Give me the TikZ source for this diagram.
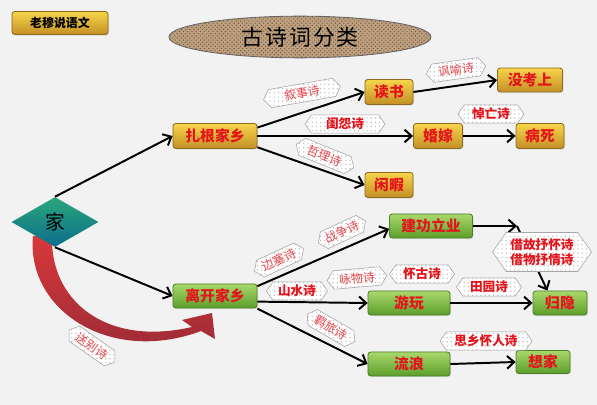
\documentclass[tikz,border=0pt]{standalone}
\usepackage{fontspec}
\setmainfont{Noto Sans CJK SC}
\usetikzlibrary{shapes.geometric,shapes.symbols,arrows.meta,patterns,shadows}

\definecolor{bgc}{HTML}{F2F2F2}
\definecolor{goldtop}{HTML}{F6D54A}
\definecolor{goldbot}{HTML}{C38F26}
\definecolor{goldline}{HTML}{8C6A1E}
\definecolor{greentop}{HTML}{A9D86B}
\definecolor{greenbot}{HTML}{5C9E2B}
\definecolor{greenline}{HTML}{4C7F2A}
\definecolor{txtred}{HTML}{E3141C}
\definecolor{lblred}{HTML}{E4474B}
\definecolor{tealtop}{HTML}{2BA67A}
\definecolor{tealbot}{HTML}{0B6E8C}
\definecolor{sand}{HTML}{BFA07E}
\definecolor{arrtop}{HTML}{D8383A}
\definecolor{arrbot}{HTML}{962A36}

\tikzset{
  goldbox/.style={rectangle, rounded corners=2pt, draw=goldline, line width=0.6pt,
    top color=goldtop, bottom color=goldbot, text=txtred,
    font=\fontsize{10.5}{12}\selectfont\bfseries, minimum height=0.625cm, inner sep=0pt,
    drop shadow={opacity=0.2, shadow xshift=0.8pt, shadow yshift=-0.8pt}},
  greenbox/.style={goldbox, draw=greenline, top color=greentop, bottom color=greenbot},
  tag/.style={signal, signal to=east and west, signal pointer angle=110,
    draw=gray!70, line width=0.4pt, preaction={fill=white}, pattern=dots,
    pattern color=gray!55, text=lblred, font=\fontsize{8.5}{10}\selectfont,
    minimum height=0.46cm, inner sep=1pt},
  boldtag/.style={tag, text=txtred, font=\fontsize{9}{10.5}\selectfont\bfseries},
  link/.style={draw=black, line width=1.4pt, -{Straight Barb[length=5pt,width=9pt]}},
}

\begin{document}
\begin{tikzpicture}[x=0.025cm, y=-0.025cm]
  \fill[bgc] (0,0) rectangle (597,405);
  \useasboundingbox (0,0) rectangle (597,405);

  % header and title
  \node[goldbox, text=black, minimum width=2.4cm, minimum height=0.575cm,
    font=\fontsize{8.5}{10}\selectfont\bfseries] (brand) at (60,23) {老穆说语文};
  \node[ellipse, draw=gray!80!black, line width=0.6pt, fill=sand,
    postaction={pattern=crosshatch dots, pattern color=sand!55!black},
    minimum width=6.55cm, minimum height=0.925cm,
    font=\fontsize{15.5}{15.5}\selectfont] (title) at (300,37)
    {古\hspace{1.5pt}诗\hspace{1.5pt}词\hspace{1.5pt}分\hspace{1.5pt}类};

  % red curved arrow
  \shade[top color=arrtop, bottom color=arrbot] (33,236)
    .. controls (26,310) and (110,365) .. (201,331)
    -- (215,339) -- (212,313) -- (182,320) -- (192,327)
    .. controls (105,347) and (50,300) .. (52,236) -- cycle;

  \node[diamond, aspect=1.74, minimum width=2.175cm, minimum height=1.25cm,
    inner sep=0pt, top color=tealtop, bottom color=tealbot,
    font=\fontsize{14}{14}\selectfont] (jia) at (55,222) {家};

  % boxes
  \node[goldbox, minimum width=2.1cm] (zg) at (215,136) {扎根家乡};
  \node[goldbox, minimum width=1.2cm] (dushu) at (389,92) {读书};
  \node[goldbox, minimum width=1.625cm, minimum height=0.6cm] (mks) at (530,80) {没考上};
  \node[goldbox, minimum width=1.225cm] (hunjia) at (438,136) {婚嫁};
  \node[goldbox, minimum width=1.2cm] (bingsi) at (540,136) {病死};
  \node[goldbox, minimum width=1.2cm] (xianxia) at (389,185) {闲暇};

  \node[greenbox, minimum width=2.1cm, minimum height=0.6cm] (lk) at (215,296) {离开家乡};
  \node[greenbox, minimum width=2.075cm, minimum height=0.6cm] (jg) at (431,226) {建功立业};
  \node[greenbox, minimum width=2.05cm, minimum height=0.6cm] (youwan) at (409,303) {游玩};
  \node[greenbox, minimum width=1.35cm, minimum height=0.6cm] (guiyin) at (560,303) {归隐};
  \node[greenbox, minimum width=2.05cm, minimum height=0.6cm] (liulang) at (409,364) {流浪};
  \node[greenbox, minimum width=1.35cm, minimum height=0.575cm] (xiangjia) at (543,362) {想家};

  % connectors
  \draw[link] (jia.north) -- (zg.west);
  \draw[link] (jia.south) -- (lk.west);
  \draw[link] ([yshift=6pt]zg.east) -- (dushu.west);
  \draw[link] (zg.east) -- (hunjia.west);
  \draw[link] ([yshift=-8pt]zg.east) -- (xianxia.west);
  \draw[link] (dushu.east) -- (mks.west);
  \draw[link] (hunjia.east) -- (bingsi.west);
  \draw[link] ([yshift=7pt]lk.east) -- ([yshift=-2pt]jg.west);
  \draw[link] ([yshift=-4pt]lk.east) -- (youwan.west);
  \draw[link] ([yshift=-9pt]lk.east) -- (liulang.west);
  \coordinate (kk) at (517,226);
  \draw[link] (jg.east) -- (kk);
  \draw[link] (kk) -- ([xshift=-9pt]guiyin.north);
  \draw[link] (youwan.east) -- (guiyin.west);
  \draw[link] (liulang.east) -- (xiangjia.west);

  % labels
  \node[tag, rotate=10, minimum width=1.95cm] (xushi) at (302,93) {叙事诗};
  \node[tag, rotate=8, minimum width=1.5cm] (fengyu) at (456,70) {讽喻诗};
  \node[boldtag, minimum width=2cm] (guiyuan) at (345,124) {闺怨诗};
  \node[tag, rotate=-22, minimum width=1.55cm] (zheli) at (325,156) {哲理诗};
  \node[boldtag, minimum width=1.65cm] (daowang) at (491,114) {悼亡诗};
  \node[tag, rotate=25, minimum width=1.35cm] (biansai) at (279,260) {边塞诗};
  \node[tag, rotate=25, minimum width=1.3cm] (zhanzheng) at (342,232) {战争诗};
  \node[boldtag, minimum width=1.525cm] (shanshui) at (297,291) {山水诗};
  \node[tag, rotate=5, minimum width=1.5cm] (yongwu) at (357,278) {咏物诗};
  \node[boldtag, minimum width=1.625cm] (huaigu) at (422,274) {怀古诗};
  \node[boldtag, minimum width=1.625cm] (tianyuan) at (489,287) {田园诗};
  \node[boldtag, minimum width=2.475cm, minimum height=0.975cm, align=center]
    (jiegu) at (542,252) {借故抒怀诗\\借物抒情诗};
  \node[tag, rotate=-30, minimum width=1.375cm] (jilv) at (331,328) {羁旅诗};
  \node[boldtag, minimum width=2.3cm] (sixiang) at (486,341) {思乡怀人诗};
  \node[tag, rotate=-35, minimum width=1.4cm] (songbie) at (92,346) {送别诗};
\end{tikzpicture}
\end{document}
